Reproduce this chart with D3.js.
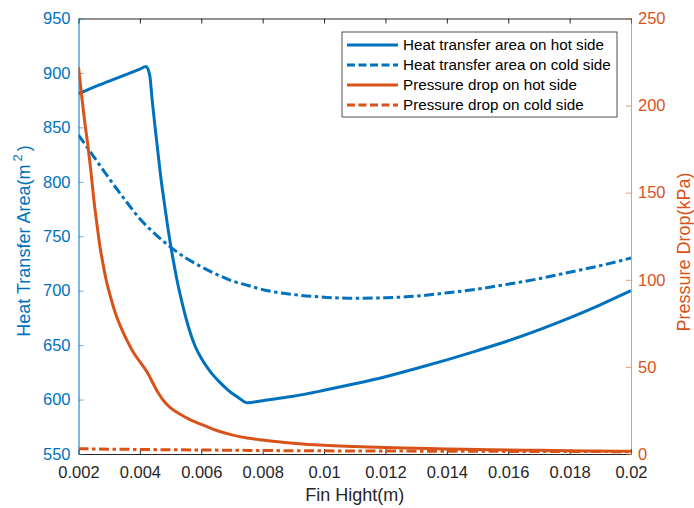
<!DOCTYPE html>
<html>
<head>
<meta charset="utf-8">
<script src="https://cdn.jsdelivr.net/npm/d3@7/dist/d3.min.js"></script>
<style>
  html, body { margin: 0; padding: 0; background: #fff; }
  svg { display: block; font-family: "Liberation Sans", Arial, Helvetica, sans-serif; }
</style>
</head>
<body>
<svg id="chart" width="694" height="508"></svg>
<script>
// Fin height (m) samples for each series
const hotAreaX = [0.0020, 0.0025, 0.0030, 0.0035, 0.0040, 0.0042, 0.00432, 0.0044, 0.0045, 0.0046, 0.0047, 0.0048, 0.0049, 0.0050, 0.0051, 0.0052, 0.0054, 0.0056, 0.0058, 0.0060, 0.0063, 0.0066, 0.0069, 0.0072, 0.0075, 0.0080, 0.0090, 0.0100, 0.0110, 0.0120, 0.0130, 0.0140, 0.0150, 0.0160, 0.0170, 0.0180, 0.0190, 0.0200];
const hotAreaY = [881, 887, 892.5, 898, 903.5, 906, 898, 875, 849, 824, 800, 780, 760, 742, 726, 711, 686, 665, 649, 638, 625.5, 616, 608, 602, 597, 599, 603, 608.5, 614.5, 621, 628.5, 636.5, 645, 654, 664, 675, 687, 700];

const coldAreaX = [0.0020, 0.0025, 0.0030, 0.0035, 0.0040, 0.0045, 0.0050, 0.0055, 0.0060, 0.0065, 0.0070, 0.0075, 0.0080, 0.0090, 0.0100, 0.0110, 0.0120, 0.0130, 0.0140, 0.0150, 0.0160, 0.0170, 0.0180, 0.0190, 0.0200];
const coldAreaY = [843, 823, 803, 784, 766, 752, 740, 730, 722, 715, 709, 705, 701, 696.5, 694, 693, 693.5, 695, 698, 701.5, 706, 711, 717, 723, 730];

const hotDpX = [0.0020, 0.0021, 0.0022, 0.0023, 0.0024, 0.0025, 0.0026, 0.0027, 0.0028, 0.0029, 0.0030, 0.0032, 0.0034, 0.0036, 0.0038, 0.0040, 0.0041, 0.0042, 0.0043, 0.0044, 0.0046, 0.0048, 0.0050, 0.0053, 0.0056, 0.0060, 0.0065, 0.0070, 0.0075, 0.0080, 0.0085, 0.0090, 0.0100, 0.0110, 0.0120, 0.0130, 0.0140, 0.0150, 0.0160, 0.0170, 0.0180, 0.0190, 0.0200];
const hotDpY = [222, 206, 191, 178, 163, 146, 132, 119, 109, 100, 93, 81, 72, 64.5, 58, 53, 50.5, 48, 45, 41.5, 35, 30, 26.5, 23, 20, 17, 13.5, 11, 9.2, 8, 7, 6.2, 5.0, 4.3, 3.7, 3.3, 2.9, 2.6, 2.3, 2.1, 1.9, 1.7, 1.6];

const coldDpX = [0.0020, 0.0040, 0.0060, 0.0080, 0.0100, 0.0120, 0.0140, 0.0160, 0.0180, 0.0200];
const coldDpY = [3.0, 2.6, 2.3, 2.0, 1.8, 1.7, 1.6, 1.5, 1.4, 1.35];

// Axis ticks
const xTicks = [0.002, 0.004, 0.006, 0.008, 0.01, 0.012, 0.014, 0.016, 0.018, 0.02];
const xTickLabels = ["0.002", "0.004", "0.006", "0.008", "0.01", "0.012", "0.014", "0.016", "0.018", "0.02"];
const leftTicks = [550, 600, 650, 700, 750, 800, 850, 900, 950];
const rightTicks = [0, 50, 100, 150, 200, 250];

const seriesNames = ["Heat transfer area on hot side", "Heat transfer area on cold side", "Pressure drop on hot side", "Pressure drop on cold side"];

const BLUE = "#0072BD", ORANGE = "#D95319", DARK = "#262626";
const DASHDOT = "10,3.5,3.5,3.5";
const FONT = "Liberation Sans, Arial, sans-serif";

const svg = d3.select("#chart");
const plot = { left: 78.5, right: 631, top: 18.5, bottom: 454 };

const x = d3.scaleLinear().domain([0.002, 0.02]).range([plot.left, plot.right]);
const yL = d3.scaleLinear().domain([550, 950]).range([plot.bottom, plot.top]);
const yR = d3.scaleLinear().domain([0, 250]).range([plot.bottom, plot.top]);

svg.append("defs").append("clipPath").attr("id", "clip")
  .append("rect")
  .attr("x", plot.left).attr("y", plot.top)
  .attr("width", plot.right - plot.left).attr("height", plot.bottom - plot.top);

// Bottom axis
const xAxis = svg.append("g")
  .attr("transform", `translate(0,${plot.bottom})`)
  .call(d3.axisBottom(x).tickValues(xTicks).tickSizeInner(-5).tickSizeOuter(0)
    .tickFormat((d, i) => xTickLabels[i]));
xAxis.select(".domain").attr("stroke", DARK);
xAxis.selectAll(".tick line").attr("stroke", DARK);
xAxis.selectAll(".tick text").attr("fill", DARK).attr("font-size", 16.5)
  .attr("font-family", FONT).attr("dy", "1.27em");

// Top axis
const xTop = svg.append("g")
  .attr("transform", `translate(0,${plot.top})`)
  .call(d3.axisTop(x).tickValues(xTicks).tickSizeInner(-5).tickSizeOuter(0).tickFormat(""));
xTop.select(".domain").attr("stroke", DARK);
xTop.selectAll(".tick line").attr("stroke", DARK);

// Left axis
const yAxisL = svg.append("g")
  .attr("transform", `translate(${plot.left},0)`)
  .call(d3.axisLeft(yL).tickValues(leftTicks).tickSizeInner(-5).tickSizeOuter(0).tickPadding(8));
yAxisL.select(".domain").attr("stroke", BLUE);
yAxisL.selectAll(".tick line").attr("stroke", BLUE).attr("opacity", 0.6);
yAxisL.selectAll(".tick text").attr("fill", BLUE).attr("font-size", 16.5)
  .attr("font-family", FONT);

// Right axis
const yAxisR = svg.append("g")
  .attr("transform", `translate(${plot.right},0)`)
  .call(d3.axisRight(yR).tickValues(rightTicks).tickSizeInner(-5).tickSizeOuter(0).tickPadding(7));
yAxisR.select(".domain").attr("stroke", ORANGE).attr("opacity", 0.6);
yAxisR.selectAll(".tick line").attr("stroke", ORANGE).attr("opacity", 0.6);
yAxisR.selectAll(".tick text").attr("fill", ORANGE).attr("font-size", 16.5)
  .attr("font-family", FONT);

// Axis titles
svg.append("text")
  .attr("x", (plot.left + plot.right) / 2).attr("y", 501)
  .attr("text-anchor", "middle").attr("fill", DARK).attr("font-size", 18)
  .text("Fin Hight(m)");

const leftTitle = svg.append("text")
  .attr("transform", "translate(30,241) rotate(-90)")
  .attr("text-anchor", "middle").attr("fill", BLUE).attr("font-size", 18);
leftTitle.append("tspan").text("Heat Transfer Area(m");
leftTitle.append("tspan").attr("dy", -8).attr("dx", 3).attr("font-size", 13).text("2");
leftTitle.append("tspan").attr("dy", 8).attr("dx", 3).text(")");

svg.append("text")
  .attr("transform", "translate(690,252) rotate(-90)")
  .attr("text-anchor", "middle").attr("fill", ORANGE).attr("font-size", 18)
  .text("Pressure Drop(kPa)");

// Series lines
const lines = svg.append("g").attr("clip-path", "url(#clip)");
const lineL = d3.line().x(d => x(d[0])).y(d => yL(d[1])).curve(d3.curveMonotoneX);
const lineR = d3.line().x(d => x(d[0])).y(d => yR(d[1])).curve(d3.curveMonotoneX);

const series = [
  { xs: hotAreaX, ys: hotAreaY, gen: lineL, color: BLUE, dash: null },
  { xs: coldAreaX, ys: coldAreaY, gen: lineL, color: BLUE, dash: DASHDOT },
  { xs: hotDpX, ys: hotDpY, gen: lineR, color: ORANGE, dash: null },
  { xs: coldDpX, ys: coldDpY, gen: lineR, color: ORANGE, dash: DASHDOT }
];

series.forEach(s => {
  lines.append("path")
    .datum(d3.zip(s.xs, s.ys))
    .attr("d", s.gen)
    .attr("fill", "none")
    .attr("stroke", s.color)
    .attr("stroke-width", 3)
    .attr("stroke-dasharray", s.dash)
    .attr("stroke-linejoin", "round");
});

// Legend
const lg = svg.append("g").attr("transform", "translate(342,32)");
lg.append("rect").attr("width", 275).attr("height", 85)
  .attr("fill", "#fff").attr("stroke", DARK).attr("stroke-width", 0.8);
series.forEach((s, i) => {
  const cy = 13 + i * 20;
  lg.append("line").attr("x1", 5).attr("x2", 56).attr("y1", cy).attr("y2", cy)
    .attr("stroke", s.color).attr("stroke-width", 3)
    .attr("stroke-dasharray", s.dash ? "8,3.5" : null);
  lg.append("text").attr("x", 61).attr("y", cy).attr("dy", "0.35em")
    .attr("font-size", 15.2).attr("fill", "#000").text(seriesNames[i]);
});
</script>
</body>
</html>
